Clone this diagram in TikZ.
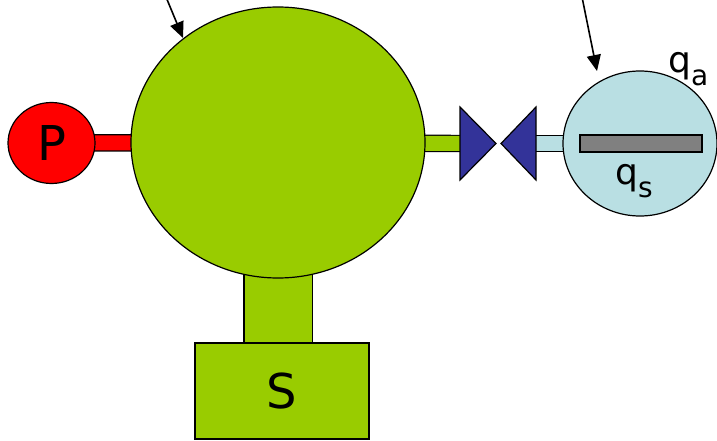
\documentclass[tikz,border=0pt]{standalone}
\usepackage{fontspec}
\setmainfont{DejaVu Sans}
\usetikzlibrary{shapes.geometric,arrows.meta,backgrounds}
\definecolor{pgreen}{RGB}{153,204,0}
\definecolor{pred}{RGB}{255,0,0}
\definecolor{pblue}{RGB}{51,51,153}
\definecolor{plight}{RGB}{185,223,227}
\definecolor{pgray}{RGB}{128,128,128}
\tikzset{
  outl/.style={draw=black, line width=1.2pt},
  ell/.style={ellipse, outl, inner sep=0pt},
  bigtxt/.style={font=\fontsize{48}{50}\selectfont},
  qtxt/.style={anchor=base west, inner sep=0pt, font=\fontsize{36}{38}\selectfont},
  pipe/.style={line width=1.2pt, draw=black, double distance=15pt},
  valve/.style={outl, fill=pblue, line join=miter},
  pointer/.style={line width=1.6pt, -{Triangle[length=16pt,width=14pt]}},
}
\newcommand{\qsub}[1]{\raisebox{-13pt}{\fontsize{28}{30}\selectfont #1}}
\begin{document}
\begin{tikzpicture}[x=1pt,y=-1pt]
\useasboundingbox (0,0) rectangle (717,441);
% main shapes
\node[ell, fill=pgreen, minimum width=294pt, minimum height=271pt] (G) at (278,142.5) {};
\node[ell, fill=pred, minimum width=87pt, minimum height=81pt, bigtxt] (P) at (51.5,143) {P};
\node[outl, fill=pgreen, minimum width=174pt, minimum height=96pt, inner sep=0pt, bigtxt] (S) at (282,391) {S};
\node[ell, fill=plight, minimum width=154pt, minimum height=145pt] (Q) at (640,143.5) {};
\node[outl, fill=pgray, minimum width=122pt, minimum height=17pt, inner sep=0pt] (bar) at (641,143.5) {};
% valve
\coordinate (v1) at (460,143.5);
\coordinate (v2) at (536,143.5);
\draw[valve] (460,107) -- (496,143.5) -- (460,180) -- cycle;
\draw[valve] (536,107) -- (501,143.5) -- (536,180) -- cycle;
% pipes
\begin{pgfonlayer}{background}
\draw[pipe, double=pred] (P.center) -- (G.center);
\draw[pipe, double=pgreen] (G.center) -- (v1);
\draw[pipe, double=plight] (v2) -- (Q.center);
\draw[line width=1.2pt, draw=black, double=pgreen, double distance=67pt] (G.center) -- (G.center |- S.north);
\end{pgfonlayer}
% labels
\node[qtxt] (qs) at (615,184) {q\qsub{s}};
\node[qtxt] (qa) at (668,73) {q\qsub{a}};
% pointers
\coordinate (a1) at (166,-3);
\coordinate (a2) at (582,-3);
\draw[pointer] (a1) -- (183,38);
\draw[pointer] (a2) -- (597,71);
\end{tikzpicture}
\end{document}
